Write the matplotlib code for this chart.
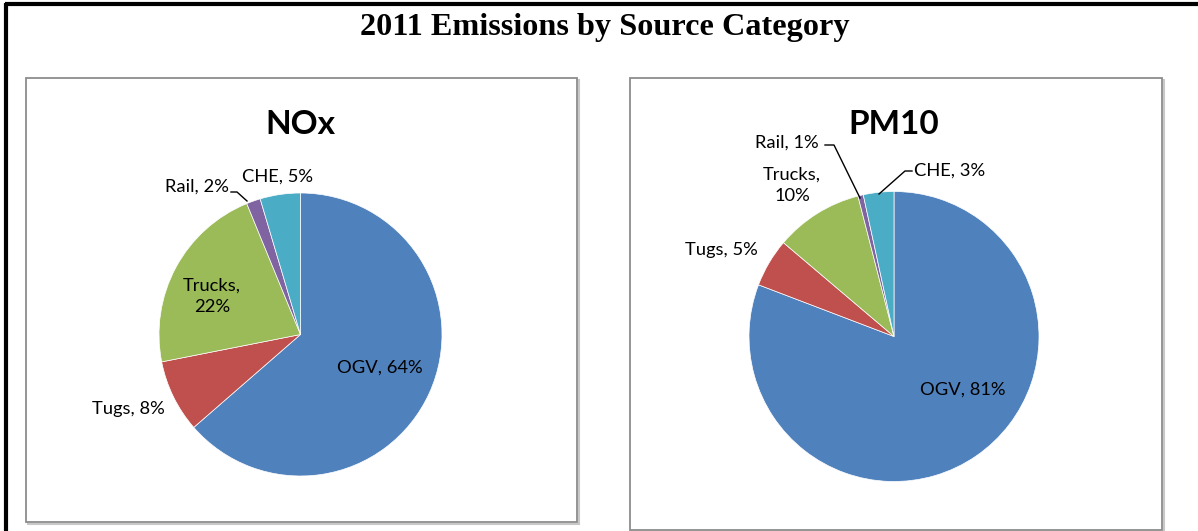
import matplotlib
matplotlib.use("Agg")
import matplotlib.pyplot as plt
from matplotlib.patches import Rectangle

# ---- data ----
categories = ["OGV", "Tugs", "Trucks", "Rail", "CHE"]
nox_values = [63.6, 8.3, 21.9, 1.6, 4.6]
pm10_values = [80.8, 5.4, 9.8, 0.6, 3.4]
chart_titles = ["NOx", "PM10"]
main_title = "2011 Emissions by Source Category"
colors = ["#4F81BD", "#C0504D", "#9BBB59", "#8064A2", "#4BACC6"]

W, H = 1198, 531
fig = plt.figure(figsize=(W / 100, H / 100), dpi=100)
ax = fig.add_axes([0, 0, 1, 1])


def Y(y):
    return H - y


LABEL_FONT = "Lato"
label_fs = 13.2

# outer frame (left and top lines)
ax.plot([6, 6], [Y(3), Y(531)], color="black", lw=3, solid_capstyle="butt")
ax.plot([4.5, 1198], [Y(3.5), Y(3.5)], color="black", lw=3, solid_capstyle="butt")

ax.text(W / 2 + 6, Y(28), main_title, ha="center", va="center",
        fontsize=23.2, fontweight="bold", family="Liberation Serif")

panels = [
    dict(box=(26, 78, 577, 522), center=(300.5, 334.5), radius=141.5,
         values=nox_values, title=chart_titles[0], title_pos=(300, 124),
         labels=[(380, 368, "center", False), (128, 409, "center", False),
                 (212, 296, "center", True), (197, 187, "center", False),
                 (278, 177, "center", False)],
         leaders=[None, None, None, [(231, 192), (237, 192), (247, 201)], None]),
    dict(box=(630, 78, 1162, 530), center=(894, 336.5), radius=145,
         values=pm10_values, title=chart_titles[1], title_pos=(894, 124),
         labels=[(963, 390, "center", False), (721, 250, "center", False),
                 (792, 185, "center", True), (787, 143, "center", False),
                 (950, 171, "center", False)],
         leaders=[None, None, None, [(825, 145), (834, 145), (860, 198)],
                  [(912, 171), (905, 171), (879, 194)]]),
]

for p in panels:
    x0, y0, x1, y1 = p["box"]
    # soft shadow
    ax.add_patch(Rectangle((x0 + 1.5, Y(y1) - 1.5), x1 - x0, y1 - y0,
                           fill=False, edgecolor="#c8c8c8", lw=1.5))
    ax.add_patch(Rectangle((x0, Y(y1)), x1 - x0, y1 - y0, facecolor="white",
                           edgecolor="#8c8c8c", lw=1.3))
    cx, cy = p["center"]
    ax.pie(p["values"], colors=colors, startangle=90, counterclock=False,
           center=(cx, Y(cy)), radius=p["radius"], frame=True,
           wedgeprops=dict(edgecolor="white", linewidth=0.5))
    ax.text(p["title_pos"][0], Y(p["title_pos"][1]), p["title"], ha="center",
            va="center", fontsize=24, fontweight="bold", family=LABEL_FONT)
    for cat, val, (lx, ly, ha, wrap), lead in zip(categories, p["values"],
                                                  p["labels"], p["leaders"]):
        sep = ",\n" if wrap else ", "
        txt = f"{cat}{sep}{round(val)}%"
        ax.text(lx, Y(ly), txt, ha=ha, va="center", fontsize=label_fs,
                family=LABEL_FONT, linespacing=1.4)
        if lead:
            xs = [q[0] for q in lead]
            ys = [Y(q[1]) for q in lead]
            ax.plot(xs, ys, color="black", lw=1)

ax.set_xlim(0, W)
ax.set_ylim(0, H)
ax.set_aspect("auto")
ax.axis("off")
fig.savefig("out.png", dpi=100)
